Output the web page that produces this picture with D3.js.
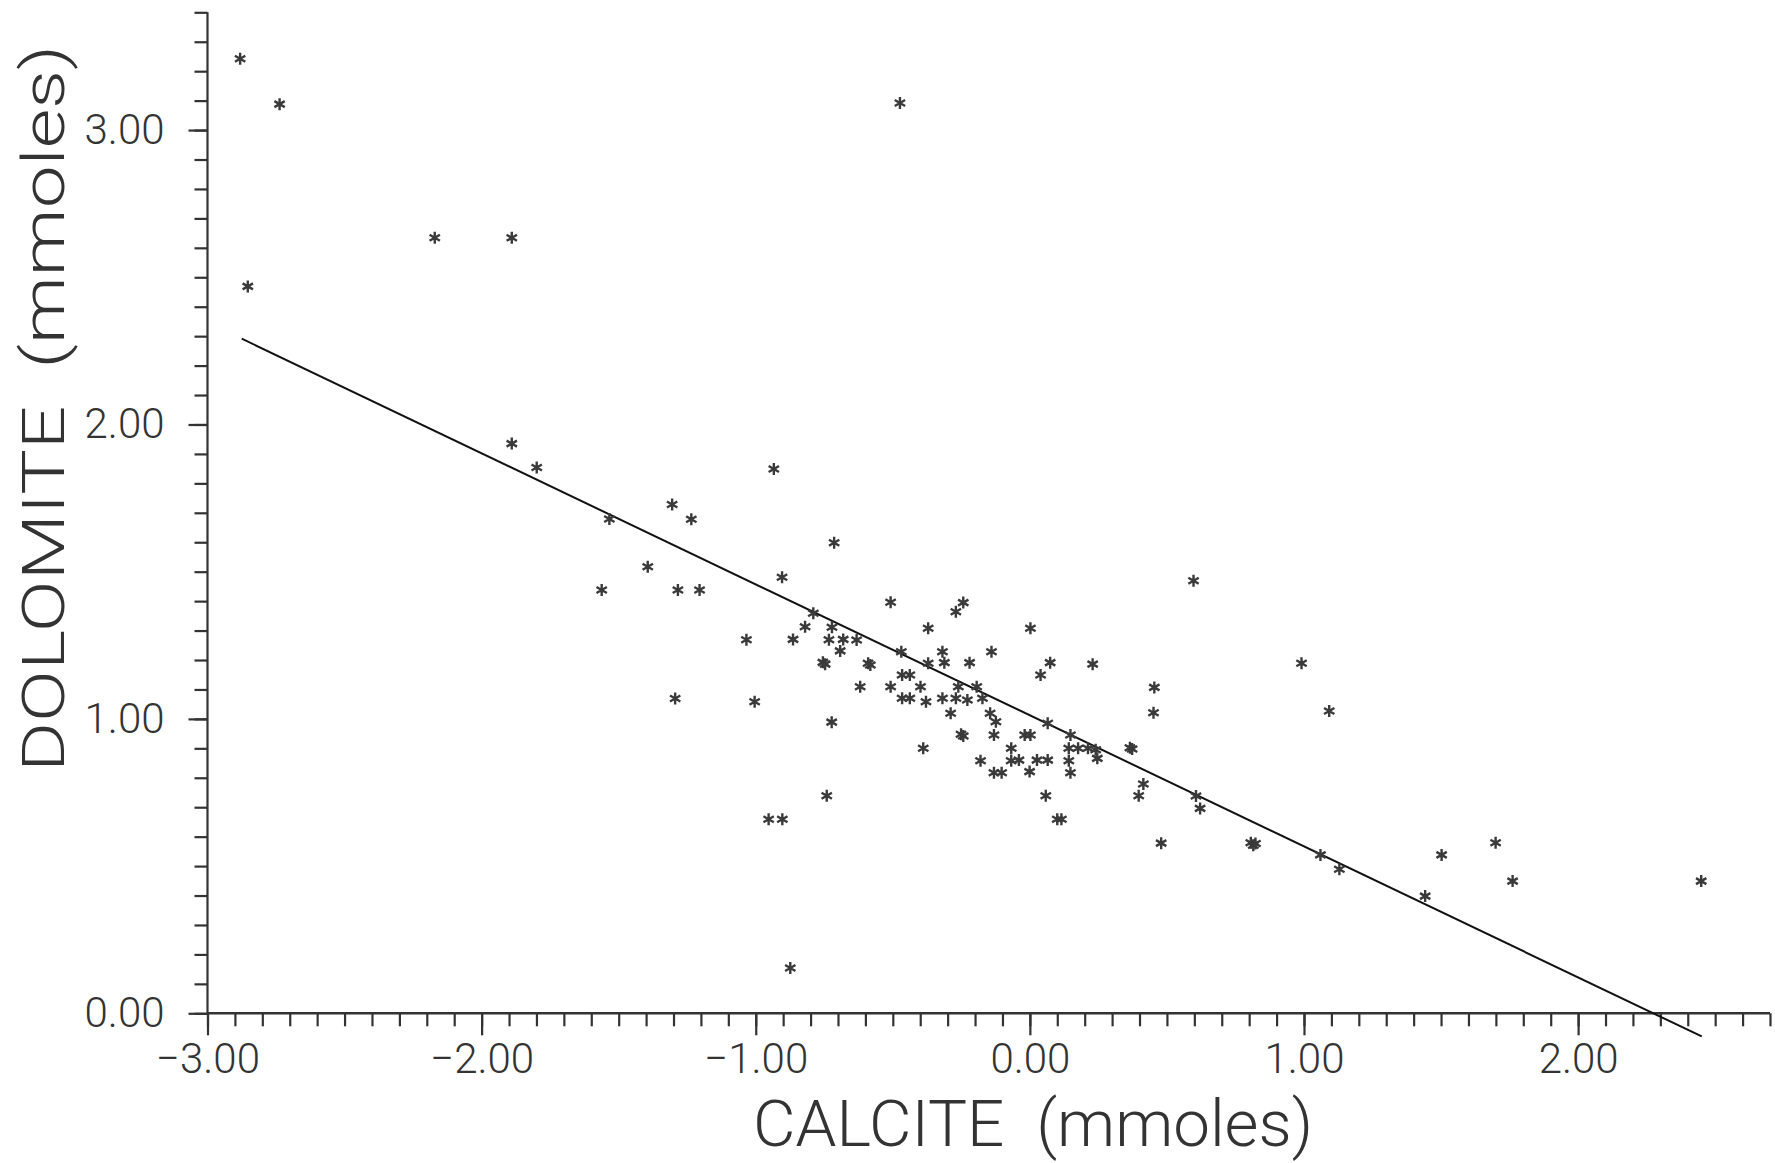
<!DOCTYPE html>
<html>
<head>
<meta charset="utf-8">
<script src="https://cdn.jsdelivr.net/npm/d3@7"></script>
<style>
body { margin: 0; background: #fff; }
svg text { font-family: Roboto, "Liberation Sans", sans-serif; font-weight: 300; fill: #333; }
</style>
</head>
<body>
<svg id="chart"></svg>
<script>
// calcite (x) vs dolomite (y), mmoles
var calcite = [
  -2.881, -2.737, -2.853, -2.171, -1.890, -0.474, -1.890, -1.799, -1.534, -1.305,
  -1.235, -0.714, -1.394, -1.562, -1.284, -1.205, -0.904, -1.294, -1.034, -1.004,
  -0.864, -0.820, -0.790, -0.722, -0.733, -0.681, -0.632, -0.692, -0.755, -0.747,
  -0.590, -0.582, -0.723, -0.741, -0.953, -0.903, -0.934, -0.508, -0.469, -0.466,
  -0.438, -0.619, -0.508, -0.466, -0.438, -0.399, -0.371, -0.371, -0.379, -0.389,
  -0.319, -0.312, -0.319, -0.270, -0.243, -0.220, -0.289, -0.261, -0.270, -0.228,
  -0.194, -0.251, -0.243, -0.173, -0.140, -0.145, -0.124, -0.131, -0.180, -0.131,
  -0.103, -0.068, -0.068, -0.040, -0.001, -0.019, 0.002, 0.002, 0.026, 0.065,
  0.058, 0.100, 0.115, 0.039, 0.074, 0.065, 0.148, 0.142, 0.176, 0.212,
  0.240, 0.142, 0.148, 0.246, 0.229, 0.365, 0.373, 0.414, 0.397, 0.454,
  0.451, 0.597, 0.991, 1.092, 0.606, 0.621, 0.479, 0.806, 0.815, 0.823,
  1.060, 1.129, 1.442, 1.502, 1.699, 1.761, 2.449, -0.874
]
var dolomite = [
  3.242, 3.088, 2.469, 2.634, 2.634, 3.092, 1.935, 1.854, 1.679, 1.728,
  1.678, 1.598, 1.517, 1.438, 1.438, 1.438, 1.481, 1.069, 1.269, 1.058,
  1.270, 1.313, 1.359, 1.311, 1.269, 1.270, 1.268, 1.231, 1.192, 1.186,
  1.189, 1.183, 0.989, 0.739, 0.659, 0.659, 1.849, 1.396, 1.228, 1.149,
  1.149, 1.109, 1.109, 1.070, 1.070, 1.109, 1.308, 1.189, 1.058, 0.900,
  1.228, 1.191, 1.070, 1.364, 1.395, 1.191, 1.019, 1.109, 1.070, 1.064,
  1.109, 0.948, 0.942, 1.070, 1.228, 1.019, 0.990, 0.945, 0.858, 0.817,
  0.817, 0.900, 0.858, 0.860, 0.821, 0.945, 0.945, 1.308, 0.860, 0.860,
  0.739, 0.659, 0.659, 1.149, 1.191, 0.985, 0.945, 0.900, 0.900, 0.900,
  0.895, 0.858, 0.817, 0.866, 1.186, 0.902, 0.898, 0.779, 0.739, 1.107,
  1.021, 1.469, 1.189, 1.027, 0.738, 0.696, 0.578, 0.579, 0.571, 0.577,
  0.538, 0.489, 0.398, 0.538, 0.579, 0.449, 0.449, 0.154
]

// least squares line as drawn
var fitRange = [-2.875, 2.451]
var fitIntercept = 1.012
var fitSlope = -0.445

var xMajor = [-3, -2, -1, 0, 1, 2]
var yMajor = [0, 1, 2, 3]
var xTitle = "CALCITE\u00a0\u00a0(mmoles)"
var yTitle = "DOLOMITE\u00a0\u00a0(mmoles)"

var width = 1775
var height = 1163
var ink = "#333"

var svg = d3.select("#chart")
    .attr("width", width)
    .attr("height", height)

var x = d3.scaleLinear().domain([-3, 2.7]).range([207.5, 1770])
var y = d3.scaleLinear().domain([0, 3.4]).range([1013.3, 12.3])

var xMinor = d3.range(-30, 28).map(d => d / 10)
var yMinor = d3.range(0, 35).map(d => d / 10)
var fmt = d3.format(".2f")

// minor ticks
svg.append("g")
    .attr("transform", "translate(0," + y(0) + ")")
    .call(d3.axisBottom(x).tickValues(xMinor).tickSize(13).tickSizeOuter(0).tickFormat(""))
svg.append("g")
    .attr("transform", "translate(" + x(-3) + ",0)")
    .call(d3.axisLeft(y).tickValues(yMinor).tickSize(13).tickSizeOuter(0).tickFormat(""))

// major ticks + labels
var xAxis = svg.append("g")
    .attr("transform", "translate(0," + y(0) + ")")
    .call(d3.axisBottom(x).tickValues(xMajor).tickSize(22).tickSizeOuter(0).tickPadding(8).tickFormat(fmt))
var yAxis = svg.append("g")
    .attr("transform", "translate(" + x(-3) + ",0)")
    .call(d3.axisLeft(y).tickValues(yMajor).tickSize(19).tickSizeOuter(0).tickPadding(24).tickFormat(fmt))

svg.selectAll(".domain").remove()
svg.selectAll(".tick line").attr("stroke", ink).attr("stroke-width", 2.2)
svg.selectAll(".tick text")
    .style("font-size", "42px")
    .attr("fill", ink)

// axis lines
svg.append("line")
    .attr("x1", x(-3)).attr("x2", x(2.7))
    .attr("y1", y(0)).attr("y2", y(0))
    .attr("stroke", ink).attr("stroke-width", 2.6)
svg.append("line")
    .attr("x1", x(-3)).attr("x2", x(-3))
    .attr("y1", y(0)).attr("y2", y(3.4))
    .attr("stroke", ink).attr("stroke-width", 2.2)

// titles
svg.append("text")
    .attr("x", 753)
    .attr("y", 1146)
    .attr("textLength", 560)
    .attr("lengthAdjust", "spacingAndGlyphs")
    .style("font-size", "64px")
    .text(xTitle)

svg.append("text")
    .attr("transform", "translate(64,772) rotate(-90)")
    .attr("textLength", 727)
    .attr("lengthAdjust", "spacingAndGlyphs")
    .style("font-size", "60px")
    .text(yTitle)

// regression line
svg.append("line")
    .attr("x1", x(fitRange[0])).attr("y1", y(fitIntercept + fitSlope * fitRange[0]))
    .attr("x2", x(fitRange[1])).attr("y2", y(fitIntercept + fitSlope * fitRange[1]))
    .attr("stroke", "#111").attr("stroke-width", 2)

// asterisk markers
function star(r) {
    var c = r * Math.cos(Math.PI / 6), s = r * Math.sin(Math.PI / 6)
    return "M0," + (-r) + "L0," + r +
        "M" + (-c) + "," + (-s) + "L" + c + "," + s +
        "M" + (-c) + "," + s + "L" + c + "," + (-s)
}

var points = calcite.map((d, i) => ({ c: d, d: dolomite[i] }))

svg.append("g")
    .selectAll("path")
    .data(points)
    .enter()
    .append("path")
    .attr("transform", d => "translate(" + x(d.c) + "," + y(d.d) + ")")
    .attr("d", star(6))
    .attr("fill", "none")
    .attr("stroke", "#3a3a3a")
    .attr("stroke-width", 2.4)
</script>
</body>
</html>
